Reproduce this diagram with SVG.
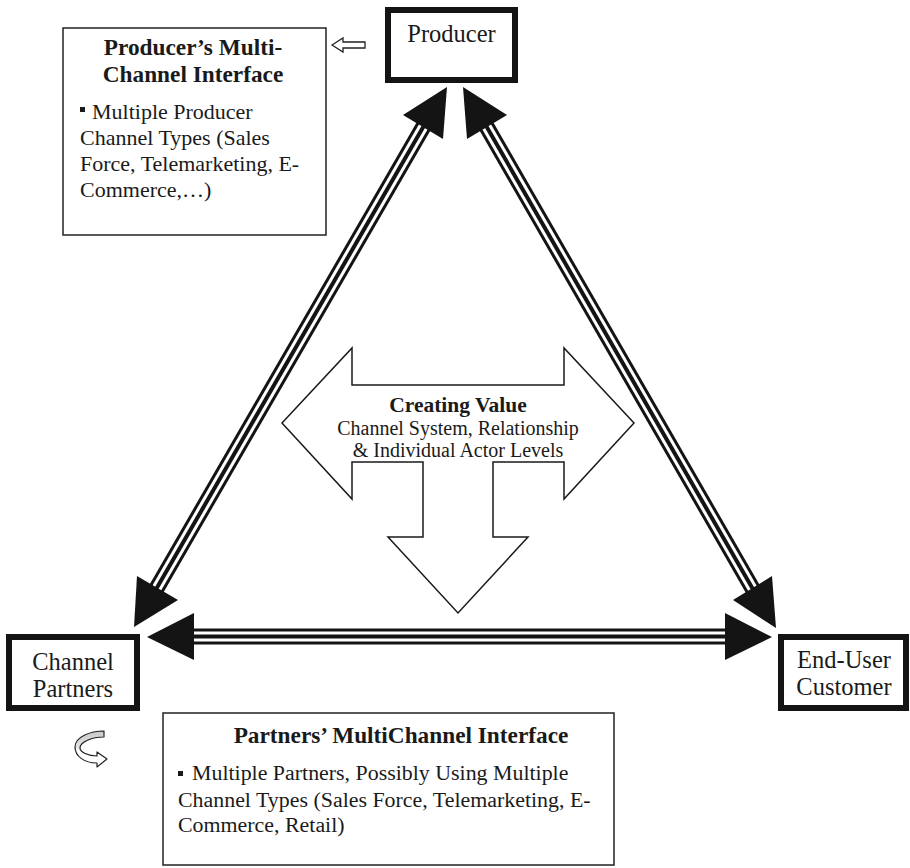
<svg xmlns="http://www.w3.org/2000/svg" width="910" height="868" viewBox="0 0 910 868">
<style>
.t{font-family:"Liberation Serif","Times New Roman",serif;fill:#1a1a1a}
.b{font-weight:bold}
.node{fill:#fff;stroke:#141414;stroke-width:6}
.box{fill:#fff;stroke:#222;stroke-width:1.5}
.l1{stroke:#141414;stroke-width:16;fill:none}
.l2{stroke:#fff;stroke-width:10;fill:none}
.l3{stroke:#141414;stroke-width:4;fill:none}
.head{fill:#141414}
</style>
<defs>
<linearGradient id="g" x1="0" y1="0" x2="0" y2="1">
<stop offset="0" stop-color="#c8c8c8"/>
<stop offset="0.45" stop-color="#e4e4e4"/>
<stop offset="0.55" stop-color="#fff"/>
<stop offset="1" stop-color="#fff"/>
</linearGradient>
</defs>
<rect width="910" height="868" fill="#fff"/>
<g id="connectors">
<g id="left-diag">
<path class="l1" d="M429,117 L151,598"/>
<path class="l2" d="M429,117 L151,598"/>
<path class="l3" d="M429,117 L151,598"/>
<polygon class="head" points="447,87 403,115 443,139"/>
<polygon class="head" points="134,627 137,576 178,600"/>
</g>
<g id="right-diag">
<path class="l1" d="M481,117 L758,598"/>
<path class="l2" d="M481,117 L758,598"/>
<path class="l3" d="M481,117 L758,598"/>
<polygon class="head" points="463,87 507,115 467,139"/>
<polygon class="head" points="776,628 733,600 772,576"/>
</g>
<g id="bottom-line">
<path class="l1" d="M185,636.5 L735,636.5"/>
<path class="l2" d="M185,636.5 L735,636.5"/>
<path class="l3" d="M185,636.5 L735,636.5"/>
<polygon class="head" points="147,637 194,613 194,660"/>
<polygon class="head" points="772,637 725,613 725,660"/>
</g>
<polygon id="small-arrow" points="332,45 343,38 343,42 365,42 365,48 343,48 343,52" fill="#fff" stroke="#222" stroke-width="1.3"/>
<path id="curved-arrow" d="M104,731 C90,731 75,737 75,747 C75,756 84,763 97,763 L97,767 L107,759 L97,752 L97,756 C88,756 80,752 80,748 C80,742 92,737 104,737 Z" fill="url(#g)" stroke="#222" stroke-width="1.2" stroke-linejoin="round"/>
</g>
<g id="producer">
<rect class="node" x="388" y="10" width="127" height="70"/>
<text class="t" x="451.5" y="42" font-size="24.5" text-anchor="middle">Producer</text>
</g>
<g id="channel-partners">
<rect class="node" x="9" y="637" width="128" height="71"/>
<text class="t" x="73" y="670" font-size="24.5" text-anchor="middle">Channel</text>
<text class="t" x="73" y="697" font-size="24.5" text-anchor="middle">Partners</text>
</g>
<g id="end-user">
<rect class="node" x="781" y="637" width="125" height="71"/>
<text class="t" x="844" y="668" font-size="24.5" text-anchor="middle">End-User</text>
<text class="t" x="844" y="695" font-size="24.5" text-anchor="middle">Customer</text>
</g>
<g id="producer-interface">
<rect class="box" x="63" y="28" width="263" height="207"/>
<text class="t b" x="193" y="55" font-size="23.3" text-anchor="middle">Producer’s Multi-</text>
<text class="t b" x="193" y="82" font-size="23.3" text-anchor="middle">Channel Interface</text>
<rect x="80" y="107" width="5" height="5" fill="#1a1a1a"/>
<text class="t" x="92" y="119" font-size="22">Multiple Producer</text>
<text class="t" x="80" y="145" font-size="22">Channel Types (Sales</text>
<text class="t" x="80" y="171" font-size="22">Force, Telemarketing, E-</text>
<text class="t" x="80" y="197" font-size="22">Commerce,…)</text>
</g>
<g id="partners-interface">
<rect class="box" x="163" y="713" width="451" height="152"/>
<text class="t b" x="401" y="743" font-size="23.3" text-anchor="middle">Partners’ MultiChannel Interface</text>
<rect x="178" y="771" width="5" height="5" fill="#1a1a1a"/>
<text class="t" x="192" y="780" font-size="21.9">Multiple Partners, Possibly Using Multiple</text>
<text class="t" x="178" y="807" font-size="21.9">Channel Types (Sales Force, Telemarketing, E-</text>
<text class="t" x="178" y="832" font-size="21.9">Commerce, Retail)</text>
</g>
<g id="creating-value">
<polygon points="282,423 352,348 352,385 564,385 564,348 634,423 564,499 564,462 493,462 493,537 528,537 458,613 388,537 423,537 423,462 352,462 352,499" fill="#fff" stroke="#1a1a1a" stroke-width="1.5" stroke-linejoin="miter"/>
<text class="t b" x="458" y="412" font-size="21.5" text-anchor="middle">Creating Value</text>
<text class="t" x="458" y="435" font-size="20" text-anchor="middle">Channel System, Relationship</text>
<text class="t" x="458" y="457" font-size="20" text-anchor="middle">&amp; Individual Actor Levels</text>
</g>
</svg>
